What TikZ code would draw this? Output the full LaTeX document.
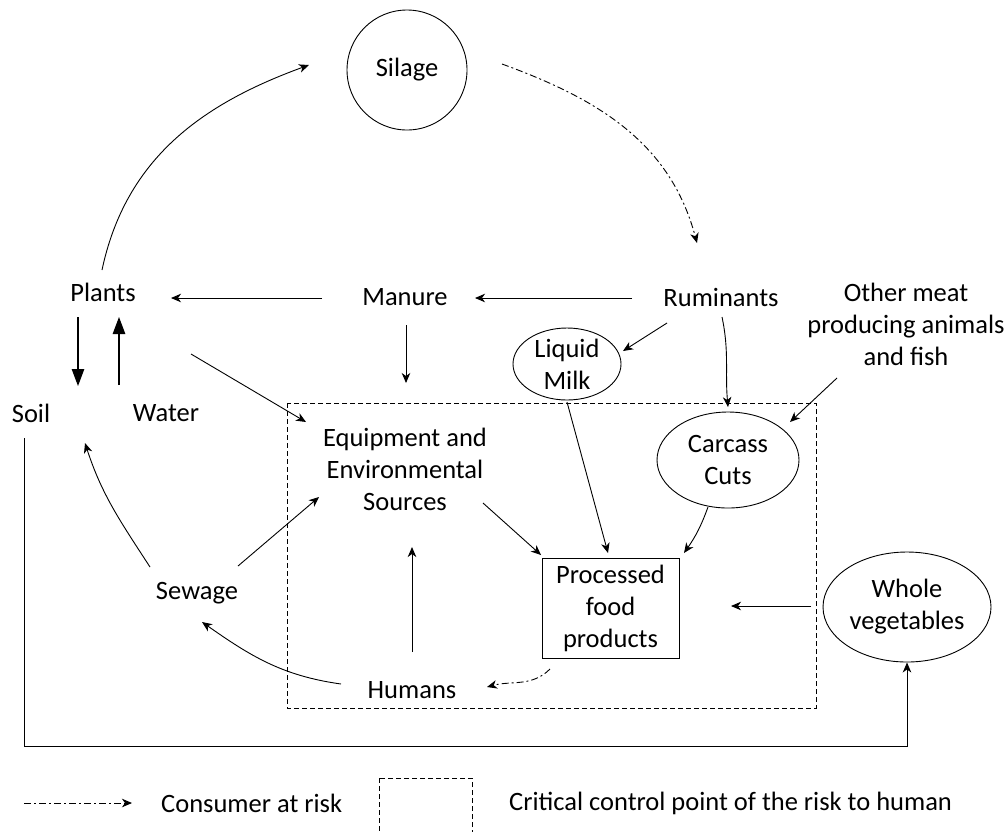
\documentclass[tikz,border=0pt]{standalone}
\usepackage{fontspec}
\setmainfont{Carlito}
\usetikzlibrary{arrows.meta,shapes.geometric}
\begin{document}
\begin{tikzpicture}[x=1pt,y=-1pt,
  every node/.style={font=\fontsize{26.5}{32}\selectfont},
  lbl/.style={inner sep=0pt, align=center},
  oval/.style={draw, ellipse, inner sep=0pt, align=center, line width=0.9pt},
  arr/.style={line width=0.9pt, -{Stealth[length=10pt,width=8.5pt,inset=3pt]}},
  bigarr/.style={line width=1.1pt, -{Triangle[length=17pt,width=12.5pt]}},
  dashdot/.style={dash pattern=on 7pt off 3pt on 2pt off 3pt},
  ccp/.style={draw, line width=0.8pt, dash pattern=on 5pt off 3pt}
]
\useasboundingbox (0,0) rectangle (1008,831);

% nodes
\node[draw, circle, minimum size=120pt, line width=0.9pt] (silage) at (407,70) {Silage};
\node[lbl] (plants) at (103,292) {Plants};
\node[lbl] (manure) at (405,297) {Manure};
\node[lbl] (rum) at (721,297) {Ruminants};
\node[lbl] (other) at (906,324) {Other meat\\producing animals\\and fish};
\node[lbl] (soil) at (31,413) {Soil};
\node[lbl] (water) at (166,413) {Water};
\node[oval, minimum width=108pt, minimum height=72pt] (milk) at (567,364) {Liquid\\Milk};
\node[lbl] (equip) at (405,469) {Equipment and\\Environmental\\Sources};
\node[oval, minimum width=142pt, minimum height=96pt] (carcass) at (728,460) {Carcass\\Cuts};
\node[draw, rectangle, line width=0.9pt, inner sep=0pt, align=center,
      minimum width=137pt, minimum height=100pt] (proc) at (610.5,608) {Processed\\food\\products};
\node[oval, minimum width=168pt, minimum height=110pt] (whole) at (907,607) {Whole\\vegetables};
\node[lbl] (sewage) at (197,593) {Sewage};
\node[lbl] (humans) at (412,690) {Humans};

% critical control point region
\draw[ccp] (287,403) rectangle (816,708);

% connectors
\draw[arr] ([shift={(-1,-22)}]plants.center) to[out=78,in=200] ([shift={(-98,-5)}]silage.center);
\draw[arr, dashdot] ([shift={(95,-6)}]silage.center) to[out=-20,in=105] ([shift={(-24,-54)}]rum.center);
\draw[arr] ([shift={(-89,1)}]rum.center) -- ([shift={(70,1)}]manure.center);
\draw[arr] ([shift={(-83,1)}]manure.center) -- ([shift={(68,6)}]plants.center);
\draw[arr] ([shift={(1,28)}]manure.center) -- ([shift={(1,-86)}]equip.center);
\draw[bigarr] ([shift={(-25,25)}]plants.center) -- ([shift={(47,-27)}]soil.center);
\draw[bigarr] ([shift={(-47,-28)}]water.center) -- ([shift={(16,25)}]plants.center);
\draw[arr] ([shift={(88,62)}]plants.center) -- ([shift={(-99,-47)}]equip.center);
\draw[arr] ([shift={(-54,26)}]rum.center) -- ([shift={(56,-13)}]milk.center);
\draw[arr] ([shift={(1,20)}]rum.center) to[out=-78,in=95] ([shift={(0,-53)}]carcass.center);
\draw[arr] ([shift={(-69,54)}]other.center) -- ([shift={(62,-38)}]carcass.center);
\draw[arr] ([shift={(0,38)}]milk.center) -- ([shift={(-2.5,-55)}]proc.center);
\draw[arr] ([shift={(78,34)}]equip.center) -- ([shift={(-69.5,-53)}]proc.center);
\draw[arr] ([shift={(-20,47)}]carcass.center) to[out=-110,in=55] ([shift={(73.5,-55)}]proc.center);
\draw[arr] ([shift={(-96,-1)}]whole.center) -- ([shift={(120.5,-2)}]proc.center);
\draw[arr] ([shift={(0,-38)}]humans.center) -- ([shift={(7,78)}]equip.center);
\draw[arr, dashdot] ([shift={(-60.5,61)}]proc.center) to[out=-135,in=15] ([shift={(75,-3)}]humans.center);
\draw[arr] ([shift={(-71,-6)}]humans.center) to[out=172,in=-35] ([shift={(5,29)}]sewage.center);
\draw[arr] ([shift={(-47,-26)}]sewage.center) to[out=123,in=-72] ([shift={(54,30)}]soil.center);
\draw[arr] ([shift={(41,-27)}]sewage.center) -- ([shift={(-86,28)}]equip.center);
\draw[arr] ([shift={(-7,25)}]soil.center) -- ++(0,308) -| (whole.south);

% legend
\coordinate (legA) at (24,803);
\node[lbl, anchor=west] (legtxt) at (161,803) {Consumer at risk};
\draw[arr, dashdot] (legA) -- ([xshift=-29pt]legtxt.west);
\draw[ccp] (379,778) rectangle (472,840);
\node[lbl, anchor=west] (legccp) at (509,803) {Critical control point of the risk to human};
\end{tikzpicture}
\end{document}
